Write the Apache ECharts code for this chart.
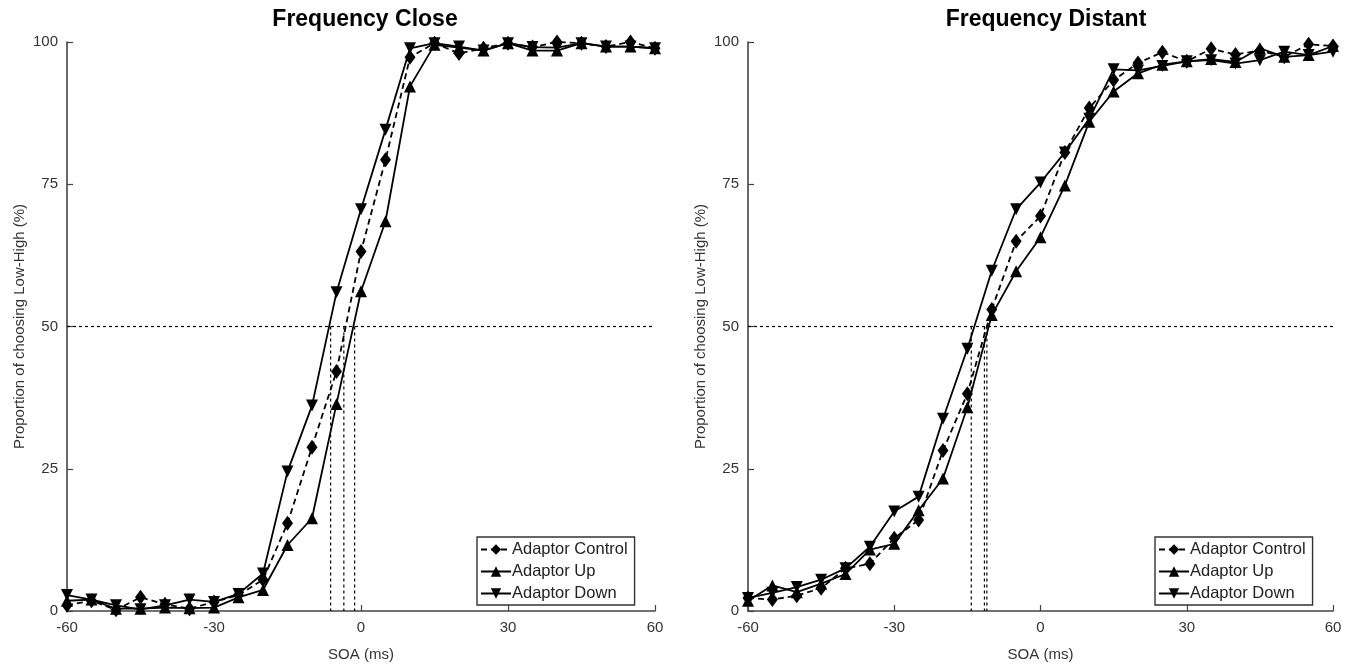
<!DOCTYPE html>
<html>
<head>
<meta charset="utf-8">
<title>SOA psychometric curves</title>
<script src="https://cdn.jsdelivr.net/npm/echarts@6/dist/echarts.min.js"></script>
<style>
  html, body { margin: 0; padding: 0; background: #fff; }
  #chart { width: 1352px; height: 667px; }
</style>
</head>
<body>
<div id="chart"></div>
<script type="text/javascript">
// SOA (ms) categories, shared by both panels
var soa = [-60, -55, -50, -45, -40, -35, -30, -25, -20, -15, -10, -5, 0, 5, 10, 15, 20, 25, 30, 35, 40, 45, 50, 55, 60];

// Frequency Close (%)
var closeControl = [1.0, 1.8, 0.2, 2.4, 1.2, 0.4, 1.6, 2.8, 5.5, 15.4, 28.8, 42.1, 63.2, 79.3, 97.3, 99.8, 98.0, 98.9, 99.8, 99.1, 100, 99.8, 99.2, 100, 98.9];
var closeUp      = [1.8, 2.0, 0.4, 0.4, 0.6, 0.5, 0.6, 2.4, 3.7, 11.6, 16.3, 36.4, 56.2, 68.5, 92.2, 99.5, 99.0, 98.5, 99.8, 98.5, 98.5, 99.8, 99.2, 99.2, 98.9];
var closeDown    = [2.8, 2.0, 1.0, 0.3, 1.0, 2.0, 1.6, 3.0, 6.6, 24.5, 36.1, 56.0, 70.6, 84.6, 98.9, 99.8, 99.2, 98.5, 99.8, 99.1, 99.0, 99.8, 99.2, 99.2, 98.9];

// Frequency Distant (%)
var distControl = [2.3, 2.0, 2.7, 4.0, 7.5, 8.3, 12.8, 16.0, 28.2, 38.2, 53.0, 65.0, 69.4, 80.6, 88.4, 93.3, 96.3, 98.2, 96.6, 98.8, 97.8, 98.5, 97.4, 99.6, 99.3];
var distUp      = [1.8, 4.5, 3.3, 4.8, 6.5, 10.8, 11.8, 17.7, 23.3, 35.8, 52.0, 59.7, 65.7, 74.8, 86.0, 91.3, 94.5, 96.0, 96.6, 97.0, 96.5, 98.9, 97.4, 97.7, 99.3];
var distDown    = [2.3, 3.2, 4.2, 5.5, 7.5, 11.3, 17.5, 20.1, 33.8, 46.1, 59.8, 70.6, 75.3, 80.6, 86.5, 95.2, 95.0, 95.8, 96.6, 96.8, 96.2, 96.8, 98.3, 97.7, 98.3];

// points of subjective equality (ms): control, up, down
var closePse = [-3.5, -1.3, -6.2];
var distPse  = [-11.5, -11.0, -14.2];

var xTicks = [-60, -30, 0, 30, 60];
var yTicks = [0, 25, 50, 75, 100];

var names = ['Adaptor Control', 'Adaptor Up', 'Adaptor Down'];
var FONT = '"Liberation Sans", Arial, sans-serif';

function pairs(ys) {
    return soa.map(function (x, i) { return [x, ys[i]]; });
}

function curve(name, ys, gi) {
    var s = {
        name: name,
        type: 'line',
        xAxisIndex: gi,
        yAxisIndex: gi,
        data: pairs(ys),
        symbolSize: 12,
        color: '#000',
        lineStyle: { color: '#000', width: 1.8, type: 'solid' },
        itemStyle: { color: '#000' },
        z: 3
    };
    if (name == 'Adaptor Control') {
        s.symbol = 'diamond';
        s.symbolSize = [11, 15];
        s.lineStyle.type = [6, 4];
    } else if (name == 'Adaptor Up') {
        s.symbol = 'triangle';
    } else {
        s.symbol = 'triangle';
        s.symbolRotate = 180;
    }
    return s;
}

function refLine(pts, gi) {
    return {
        type: 'line',
        xAxisIndex: gi,
        yAxisIndex: gi,
        data: pts,
        symbol: 'none',
        silent: true,
        lineStyle: { color: '#000', width: 1.2, type: [3, 3] },
        z: 1
    };
}

function axes(gi) {
    var axisCommon = {
        gridIndex: gi,
        type: 'value',
        nameLocation: 'middle',
        nameTextStyle: { fontFamily: FONT, fontSize: 15, color: '#333' },
        axisLine: { show: true, onZero: false, lineStyle: { color: '#444', width: 1.6 } },
        axisTick: { show: true, inside: true, length: 6, lineStyle: { color: '#444', width: 1.2 } },
        axisLabel: { fontFamily: FONT, fontSize: 15, color: '#333' },
        splitLine: { show: false }
    };
    var x = Object.assign({}, axisCommon, {
        min: -60, max: 60, interval: 30,
        name: 'SOA (ms)', nameGap: 36,
        axisLabel: Object.assign({}, axisCommon.axisLabel, { margin: 9,
            customValues: xTicks }),
        axisTick: Object.assign({}, axisCommon.axisTick, { customValues: xTicks })
    });
    var y = Object.assign({}, axisCommon, {
        min: 0, max: 100, interval: 25,
        name: 'Proportion of choosing Low-High (%)', nameGap: 40,
        axisLabel: Object.assign({}, axisCommon.axisLabel, { margin: 9,
            customValues: yTicks }),
        axisTick: Object.assign({}, axisCommon.axisTick, { customValues: yTicks })
    });
    return [x, y];
}

var a0 = axes(0), a1 = axes(1);

var series = [];
[[closeControl, closeUp, closeDown], [distControl, distUp, distDown]].forEach(function (set, gi) {
    var pse = gi == 0 ? closePse : distPse;
    series.push(refLine([[-60, 50], [60, 50]], gi));
    pse.forEach(function (p) {
        series.push(refLine([[p, 50], [p, 0]], gi));
    });
    set.forEach(function (ys, k) {
        series.push(curve(names[k], ys, gi));
    });
});

function legendAt(left) {
    return {
        data: names,
        orient: 'vertical',
        left: left,
        top: 537,
        itemGap: 5,
        itemWidth: 30,
        itemHeight: 13,
        padding: [4, 7, 3, 3],
        borderColor: '#333',
        borderWidth: 1.4,
        backgroundColor: '#fff',
        selectedMode: false,
        textStyle: { fontFamily: FONT, fontSize: 16.5, color: '#222', padding: [0, 0, 0, -4] }
    };
}

var chart = echarts.init(document.getElementById('chart'));
chart.setOption({
    backgroundColor: '#fff',
    animation: false,
    title: [
        { text: 'Frequency Close', left: 360, top: 3, textAlign: 'center',
          textStyle: { fontFamily: FONT, fontSize: 23, fontWeight: 'bold', color: '#000' } },
        { text: 'Frequency Distant', left: 1041, top: 3, textAlign: 'center',
          textStyle: { fontFamily: FONT, fontSize: 23, fontWeight: 'bold', color: '#000' } }
    ],
    legend: [legendAt(477), legendAt(1155)],
    grid: [
        { left: 67, right: 697, top: 42, bottom: 54 },
        { left: 748, right: 19, top: 42, bottom: 54 }
    ],
    xAxis: [a0[0], a1[0]],
    yAxis: [a0[1], a1[1]],
    series: series
});
</script>
</body>
</html>
